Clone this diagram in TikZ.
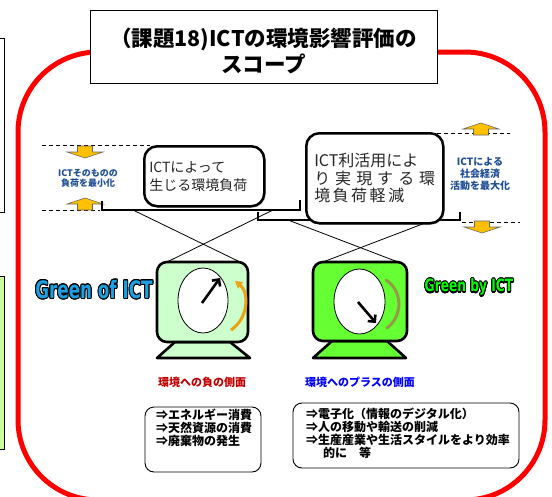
\documentclass[tikz,border=0pt]{standalone}
\usepackage{fontspec}
\newfontfamily\jp{Noto Sans CJK JP}
\newfontfamily\heavy{DejaVu Sans}
\usepackage{contour}
\contourlength{1.3pt}
\usepackage{tikz}
\usetikzlibrary{arrows.meta,shadows}

\definecolor{ofgreen}{HTML}{CCFFCC}
\definecolor{bygreen}{HTML}{66FF33}
\definecolor{sidegreen}{HTML}{CCFF99}
\definecolor{negred}{HTML}{C00000}
\definecolor{posblue}{HTML}{0000FF}
\definecolor{notenavy}{HTML}{1F4E96}
\definecolor{ofblue}{HTML}{1BA1E2}
\definecolor{byfill}{HTML}{00FF00}
\definecolor{arrowyellow}{HTML}{FFC000}
\definecolor{swingorange}{HTML}{EBA312}
\definecolor{swingolive}{HTML}{9C8A4A}

\tikzset{
  redframe/.style={draw=red, line width=5pt, rounded corners=80pt},
  titlebox/.style={draw=black, fill=white, line width=0.9pt},
  levelline/.style={dash pattern=on 4pt off 3pt, line width=0.8pt},
  bracket/.style={line width=2.2pt},
  antenna/.style={line width=0.8pt},
  yarrow/.style={fill=arrowyellow, draw=black!60, line width=0.6pt},
  bigbox/.style={draw=black, fill=white, line width=2.5pt, rounded corners=13pt,
    align=left, text=black!85,
    drop shadow={shadow xshift=1.5pt, shadow yshift=-1.5pt, opacity=0.3}},
  note/.style={font=\jp\bfseries, text=notenavy, align=center, inner sep=0pt},
  screen/.style={draw=black, line width=2.6pt, line join=round},
  dial/.style={draw=black, fill=white, line width=0.8pt},
  needle/.style={line width=2.6pt, -{Straight Barb[length=5pt,width=10pt]}},
  listbox/.style={draw=black, line width=0.9pt, rounded corners=9pt},
  listtext/.style={font=\jp\bfseries\fontsize{12}{13}\selectfont, align=left,
    inner sep=0pt, anchor=north west},
  arrup/.pic={\draw[yarrow] (-7.5,12) -- (-7.5,6) -- (-18,6) -- (0,0)
    -- (18,6) -- (7.5,6) -- (7.5,12) -- cycle;}
}

\begin{document}
\begin{tikzpicture}[x=1pt,y=-1pt]
\useasboundingbox (0,0) rectangle (552,496);

% panels cut off at the left edge
\draw[line width=0.8pt, fill=white] (-10,38) rectangle (4,212);
\draw[line width=0.8pt, fill=sidegreen] (-10,276) rectangle (4,449);

% scope frame and title
\draw[redframe] (18,52) rectangle (545,500);
\draw[titlebox] (90,10) rectangle (437,83);
\node[font=\jp\bfseries\fontsize{21.5}{26}\selectfont, align=center] (title)
  at (263.5,51) {（課題18)ICTの環境影響評価の\\スコープ};

% levels
\draw[levelline] (42,145) -- (150,145);
\draw[levelline] (42,210) -- (100,210);
\draw[levelline] (437,133) -- (510,133);
\draw[levelline] (462,222) -- (520,222);
\pic[rotate=180] at (85,158) {arrup};
\pic at (85,198) {arrup};
\pic at (481,123) {arrup};
\pic[rotate=180] at (482,233) {arrup};

% brackets under the two boxes
\draw[bracket] (102,201) -- (102,210) -- (300,210) -- (300,200);
\draw[bracket] (258,212) -- (258,220) -- (460,220) -- (460,212);

\coordinate (b1l) at (133,210);
\coordinate (b1r) at (273,210);
\coordinate (b2l) at (288,220);
\coordinate (b2r) at (433,220);
\coordinate (s1l) at (167,262);
\coordinate (s1r) at (240,262);
\coordinate (s2l) at (323,262);
\coordinate (s2r) at (398,262);
\draw[antenna] (b1l) -- (s1r);
\draw[antenna] (b1r) -- (s1l);
\draw[antenna] (b2l) -- (s2r);
\draw[antenna] (b2r) -- (s2l);

\node[bigbox, anchor=north west, minimum width=120pt, minimum height=60pt,
  text width=110pt, inner xsep=5pt, font=\jp\fontsize{14}{18}\selectfont]
  (load) at (143,145) {ICTによって\\生じる環境負荷};
\node[bigbox, anchor=north west, minimum width=137pt, minimum height=90pt,
  text width=121pt, inner xsep=8pt, font=\jp\fontsize{16}{17.5}\selectfont]
  (cut) at (305,132) {ICT利活用によ\\
  \makebox[121pt][s]{り\hfil 実\hfil 現\hfil す\hfil る\hfil 環}\\
  \makebox[90pt][s]{境\hfil 負\hfil 荷\hfil 軽\hfil 減}};

\node[note, font=\jp\bfseries\fontsize{9}{10}\selectfont] (minnote)
  at (88,178) {ICTそのものの\\負荷を最小化};
\node[note, font=\jp\bfseries\fontsize{10}{12}\selectfont] (maxnote)
  at (480,174) {ICTによる\\社会経済\\活動を最大化};

% Green of ICT screen
\draw[screen, fill=ofgreen] (157,358) -- (175,342) -- (230,342) -- (250,358) -- cycle;
\draw[screen, fill=ofgreen, rounded corners=10pt] (157,262) rectangle (248,342);
\draw[dial] (203,300.5) ellipse [x radius=25, y radius=32.5];
\draw[needle] (202,303) -- (220,278);
\draw[swingorange, line width=3pt, -{Triangle[length=7pt,width=8pt]}]
  (231,330) .. controls (249,318) and (249,292) .. (235,281);

% Green by ICT screen
\draw[screen, fill=bygreen] (313,358) -- (332,341) -- (387,341) -- (406,358) -- cycle;
\draw[screen, fill=bygreen, rounded corners=10pt] (313,262) rectangle (407,341);
\draw[dial] (359.5,301.5) ellipse [x radius=25.5, y radius=32.5];
\draw[needle] (358,302) -- (376,323);
\draw[swingolive, line width=3pt, line cap=round, opacity=0.85]
  (387,328) .. controls (403,316) and (403,291) .. (386,280);

\node[inner sep=0pt] (ofict) at (94,290)
  {\scalebox{0.7}[1]{\heavy\bfseries\fontsize{24}{24}\selectfont\contour{black}{\color{ofblue}Green of ICT}}};
\node[inner sep=0pt] (byict) at (469,288)
  {\scalebox{0.72}[1]{\heavy\bfseries\fontsize{17}{17}\selectfont\contour{black}{\color{byfill}Green by ICT}}};

\node[font=\jp\bfseries\fontsize{11}{11}\selectfont, text=negred] (negside)
  at (202,382) {環境への負の側面};
\node[font=\jp\bfseries\fontsize{11}{11}\selectfont, text=posblue] (posside)
  at (360,382) {環境へのプラスの側面};

% lists
\draw[listbox] (145,407) rectangle (261,472);
\draw[listbox] (293,403) rectangle (519,468);
\node[listtext] (neglist) at (156,409)
  {⇒エネルギー消費\\⇒天然資源の消費\\⇒廃棄物の発生};
\node[listtext] (poslist) at (306,408)
  {⇒電子化（情報のデジタル化）\\⇒人の移動や輸送の削減\\⇒生産産業や生活スタイルをより効率\\\hspace*{1.4em}的に　等};
\end{tikzpicture}
\end{document}
